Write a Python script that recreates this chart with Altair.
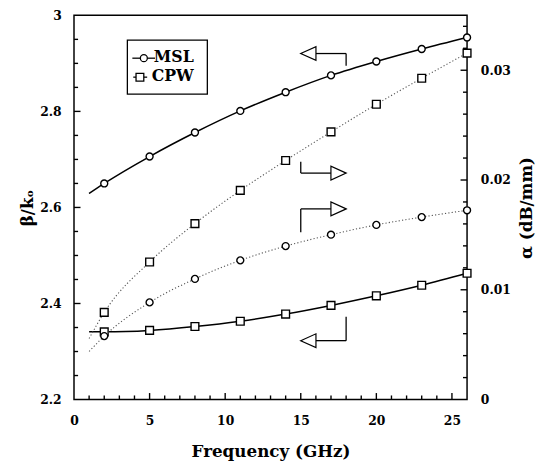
import altair as alt
import pandas as pd

FONT = "DejaVu Serif"

# ---------------- data ----------------
freq = [2, 5, 8, 11, 14, 17, 20, 23, 26]
series_names = ["MSL", "CPW"]
msl_beta = [2.650, 2.706, 2.756, 2.801, 2.840, 2.875, 2.904, 2.930, 2.954]
cpw_beta = [2.341, 2.344, 2.352, 2.363, 2.378, 2.396, 2.416, 2.438, 2.463]
msl_alpha = [0.00578, 0.00885, 0.01099, 0.01268, 0.01398, 0.01502, 0.01591, 0.01662, 0.01724]
cpw_alpha = [0.00794, 0.01253, 0.01603, 0.01905, 0.02178, 0.02438, 0.02690, 0.02927, 0.03156]

# fitted curves start at 1 GHz
curve_start_freq = 1
msl_beta_start = 2.629
cpw_beta_start = 2.341
msl_alpha_start = 0.00438
cpw_alpha_start = 0.00556

# axis ranges and tick values
x_range = [0, 26]
beta_range = [2.2, 3.0]
alpha_range = [0, 0.035]
x_label_values = [0, 5, 10, 15, 20, 25]
beta_label_values = [2.2, 2.4, 2.6, 2.8, 3.0]
alpha_label_values = [0, 0.01, 0.02, 0.03]
x_minor_ticks = [1, 2, 3, 4, 6, 7, 8, 9, 11, 12, 13, 14, 16, 17, 18, 19, 21, 22, 23, 24]
x_major_ticks = [5, 10, 15, 20, 25]
beta_minor_ticks = [2.25, 2.3, 2.35, 2.45, 2.5, 2.55, 2.65, 2.7, 2.75, 2.85, 2.9, 2.95]
beta_major_ticks = [2.4, 2.6, 2.8]
alpha_minor_ticks = [0.002, 0.004, 0.006, 0.008, 0.012, 0.014, 0.016, 0.018,
                     0.022, 0.024, 0.026, 0.028, 0.032, 0.034]
alpha_major_ticks = [0.01, 0.02, 0.03]

# annotation arrows (in frequency / beta/k0 units)
arrow_seg_f = [16, 18, 15, 15, 15, 15, 18, 18]
arrow_seg_v = [2.9205, 2.9205, 2.6953, 2.6715, 2.5482, 2.597, 2.3722, 2.3226]
arrow_seg_f2 = [18, 18, 15, 17, 15, 17, 18, 16]
arrow_seg_v2 = [2.9205, 2.8951, 2.6715, 2.6715, 2.597, 2.597, 2.3226, 2.3226]
head_left_f = [15.5, 15.5]
head_left_v = [2.9205, 2.3226]
head_right_f = [17.5, 17.5]
head_right_v = [2.6715, 2.597]

# legend box (in frequency / beta/k0 units)
legend_box = {"f": 3.53, "f2": 8.82, "v": 2.9486, "v2": 2.8358}
legend_labels = ["MSL", "CPW"]
legend_text_f = [5.28, 5.14]
legend_text_v = [2.9025, 2.8625]
legend_sym_f = [4.62, 4.36]
legend_sym_v = [2.9108, 2.8713]
legend_stub_f = [3.86, 3.92]
legend_stub_f2 = [5.36, 4.84]

# ---------------- tables ----------------
def long_table(start_vals, vals_list):
    rows = []
    for name, sv, vals in zip(series_names, start_vals, vals_list):
        if sv is not None:
            rows.append({"series": name, "f": curve_start_freq, "v": sv})
        for f, v in zip(freq, vals):
            rows.append({"series": name, "f": f, "v": v})
    return pd.DataFrame(rows)

beta_line_df = long_table([msl_beta_start, cpw_beta_start], [msl_beta, cpw_beta])
beta_pts_df = long_table([None, None], [msl_beta, cpw_beta])
alpha_line_df = long_table([msl_alpha_start, cpw_alpha_start], [msl_alpha, cpw_alpha])
alpha_pts_df = long_table([None, None], [msl_alpha, cpw_alpha])

seg_df = pd.DataFrame({"f": arrow_seg_f, "v": arrow_seg_v, "f2": arrow_seg_f2, "v2": arrow_seg_v2})
hl_df = pd.DataFrame({"f": head_left_f, "v": head_left_v})
hr_df = pd.DataFrame({"f": head_right_f, "v": head_right_v})
box_df = pd.DataFrame([legend_box])
leg_df = pd.DataFrame({
    "series": legend_labels, "f": legend_text_f, "v": legend_text_v,
    "sf": legend_sym_f, "sv": legend_sym_v, "f1": legend_stub_f, "f2": legend_stub_f2,
})

# inward tick segments, lengths expressed in axis units
MINOR_F, MAJOR_F = 0.27, 0.43          # along x (GHz) for the side ticks
MINOR_B, MAJOR_B = 0.0085, 0.0135      # along beta/k0 for the bottom ticks

tick_rows = []
for f in x_minor_ticks:
    tick_rows.append({"f": f, "f2": f, "v": beta_range[0], "v2": beta_range[0] + MINOR_B})
for f in x_major_ticks:
    tick_rows.append({"f": f, "f2": f, "v": beta_range[0], "v2": beta_range[0] + MAJOR_B})
for b in beta_minor_ticks:
    tick_rows.append({"f": x_range[0], "f2": x_range[0] + MINOR_F, "v": b, "v2": b})
for b in beta_major_ticks:
    tick_rows.append({"f": x_range[0], "f2": x_range[0] + MAJOR_F, "v": b, "v2": b})
beta_tick_df = pd.DataFrame(tick_rows)

atick_rows = []
for a in alpha_minor_ticks:
    atick_rows.append({"f": x_range[1] - MINOR_F, "f2": x_range[1], "v": a, "v2": a})
for a in alpha_major_ticks:
    atick_rows.append({"f": x_range[1] - MAJOR_F, "f2": x_range[1], "v": a, "v2": a})
alpha_tick_df = pd.DataFrame(atick_rows)

# ---------------- scales / axes ----------------
x_scale = alt.Scale(domain=x_range, nice=False, zero=False)
beta_scale = alt.Scale(domain=beta_range, nice=False, zero=False)
alpha_scale = alt.Scale(domain=alpha_range, nice=False, zero=False)

common_axis = dict(
    ticks=False, domain=False, grid=False,
    labelFont=FONT, labelFontSize=12.5, labelFontWeight="bold",
    labelColor="black", labelFlush=False, labelOverlap=False,
    titleFont=FONT, titleFontWeight="bold", titleColor="black",
)

x_axis = alt.Axis(
    values=x_label_values, format="d", labelPadding=15,
    title="Frequency (GHz)", titleFontSize=17, titleX=199.5, titleY=58, titleAlign="center",
    titleBaseline="alphabetic",
    **common_axis,
)

left_axis = alt.Axis(
    orient="left",
    values=beta_label_values, format=".1~f", labelPadding=13,
    title="β/kₒ", titleFontSize=17, titleAngle=270, titleX=-47, titleY=195,
    titleAlign="center", titleBaseline="middle",
    **common_axis,
)

right_axis = alt.Axis(
    orient="right",
    values=alpha_label_values, format=".2~f", labelPadding=13.5,
    title="α (dB/mm)", titleFontSize=17, titleAngle=270, titleX=60, titleY=195,
    titleAlign="center", titleBaseline="middle",
    **common_axis,
)

shape_scale = alt.Scale(domain=series_names, range=["circle", "square"])
size_scale = alt.Scale(domain=series_names, range=[50, 62])


def X(field="f"):
    return alt.X(f"{field}:Q", scale=x_scale, axis=x_axis)


def YB(field="v"):
    return alt.Y(f"{field}:Q", scale=beta_scale, axis=left_axis)


def YA(field="v"):
    return alt.Y(f"{field}:Q", scale=alpha_scale, axis=right_axis)


# ---------------- beta (left axis) layers ----------------
beta_ticks_layer = alt.Chart(beta_tick_df).mark_rule(color="black", strokeWidth=1.4).encode(
    x=X(), x2="f2:Q", y=YB(), y2="v2:Q"
)

beta_lines = alt.Chart(beta_line_df).mark_line(
    color="black", strokeWidth=1.5, interpolate="monotone"
).encode(x=X(), y=YB(), detail="series:N")

beta_points = alt.Chart(beta_pts_df).mark_point(
    filled=True, fill="white", stroke="black", strokeWidth=1.4, opacity=1
).encode(
    x=X(), y=YB(),
    shape=alt.Shape("series:N", scale=shape_scale, legend=None),
    size=alt.Size("series:N", scale=size_scale, legend=None),
)

arrow_lines = alt.Chart(seg_df).mark_rule(color="black", strokeWidth=1.3).encode(
    x=X(), x2="f2:Q", y=YB(), y2="v2:Q"
)

LEFT_TRI = "M -1 0 L 1 -0.9 L 1 0.9 Z"
RIGHT_TRI = "M 1 0 L -1 -0.9 L -1 0.9 Z"

heads_left = alt.Chart(hl_df).mark_point(
    shape=LEFT_TRI, size=240, filled=True, fill="white", stroke="black", strokeWidth=1.2, opacity=1
).encode(x=X(), y=YB())

heads_right = alt.Chart(hr_df).mark_point(
    shape=RIGHT_TRI, size=240, filled=True, fill="white", stroke="black", strokeWidth=1.2, opacity=1
).encode(x=X(), y=YB())

legend_rect = alt.Chart(box_df).mark_rect(
    fill="white", stroke="black", strokeWidth=1.3
).encode(x=X(), x2="f2:Q", y=YB(), y2="v2:Q")

legend_stubs = alt.Chart(leg_df).mark_rule(color="black", strokeWidth=1.3).encode(
    x=X("f1"), x2="f2:Q", y=YB("sv"),
)

legend_syms = alt.Chart(leg_df).mark_point(
    filled=True, fill="white", stroke="black", strokeWidth=1.3, opacity=1
).encode(
    x=X("sf"), y=YB("sv"),
    shape=alt.Shape("series:N", scale=shape_scale, legend=None),
    size=alt.Size("series:N", scale=size_scale, legend=None),
)

legend_text = alt.Chart(leg_df).mark_text(
    font=FONT, fontSize=16, fontWeight="bold", align="left", baseline="alphabetic", color="black"
).encode(x=X(), y=YB(), text="series:N")

beta_layer = alt.layer(
    beta_ticks_layer,
    beta_lines, beta_points, arrow_lines, heads_left, heads_right,
    legend_rect, legend_stubs, legend_syms, legend_text,
)

# ---------------- alpha (right axis) layers ----------------
alpha_ticks_layer = alt.Chart(alpha_tick_df).mark_rule(color="black", strokeWidth=1.4).encode(
    x=X(), x2="f2:Q", y=YA(), y2="v2:Q"
)

alpha_lines = alt.Chart(alpha_line_df).mark_line(
    color="#555555", strokeWidth=1.1, strokeDash=[1.2, 2.2], interpolate="monotone"
).encode(x=X(), y=YA(), detail="series:N")

alpha_points = alt.Chart(alpha_pts_df).mark_point(
    filled=True, fill="white", stroke="black", strokeWidth=1.4, opacity=1
).encode(
    x=X(), y=YA(),
    shape=alt.Shape("series:N", scale=shape_scale, legend=None),
    size=alt.Size("series:N", scale=size_scale, legend=None),
)

alpha_layer = alt.layer(alpha_ticks_layer, alpha_lines, alpha_points)

chart = alt.layer(beta_layer, alpha_layer).resolve_scale(
    y="independent"
).properties(
    width=399, height=390,
    padding={"left": 67, "top": 4, "right": 71, "bottom": 64},
    autosize=alt.AutoSizeParams(type="none"),
    background="white",
).configure_view(stroke="black", strokeWidth=1.5)

chart.save("out.html", embed_options={"renderer": "svg", "actions": False})
